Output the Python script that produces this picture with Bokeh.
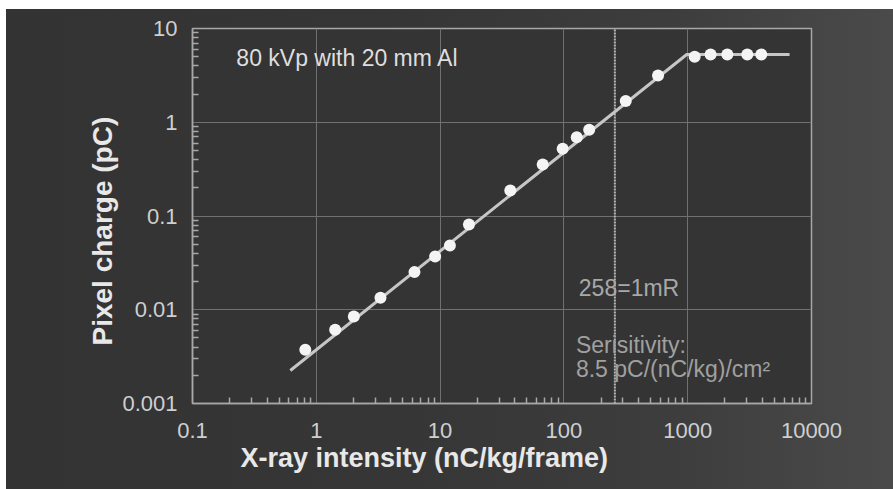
from bokeh.plotting import figure
from bokeh.models import FixedTicker, Label, Title
from bokeh.embed import file_html
from bokeh.resources import INLINE

# ---- data ----
intensity = [0.815, 1.42, 2.01, 3.30, 6.21, 9.12, 12.0, 17.1, 36.9, 67.4, 97.7,
             127, 160, 316, 576, 1138, 1531, 2090, 3030, 3930]
charge = [0.00374, 0.00611, 0.00847, 0.0134, 0.0252, 0.037, 0.0484, 0.081,
          0.187, 0.354, 0.521, 0.692, 0.83, 1.69, 3.15, 5.0, 5.28, 5.28, 5.28, 5.28]
fit_x = [0.617, 982, 6650]
fit_y = [0.00225, 5.28, 5.28]
one_mR = 258
x_ticks = [0.1, 1, 10, 100, 1000, 10000]
x_tick_labels = ["0.1", "1", "10", "100", "1000", "10000"]
y_ticks = [0.001, 0.01, 0.1, 1, 10]
y_tick_labels = ["0.001", "0.01", "0.1", "1", "10"]

FONT = "Liberation Sans"

p = figure(width=887, height=480, x_axis_type="log", y_axis_type="log",
           x_range=(0.1, 10000), y_range=(0.001, 10),
           output_backend="svg", toolbar_location=None, title=None,
           min_border_left=186, min_border_right=82, min_border_top=19,
           min_border_bottom=86, margin=(9, 0, 0, 6))

p.border_fill_alpha = 0
p.styles = {"background": "linear-gradient(90deg, #333333 0%, #363636 45%, #3d3d3d 75%, #4a4a4a 100%)"}
p.background_fill_color = "#343434"
p.outline_line_color = "#a8a8a8"
p.outline_line_width = 1.5

def minors(ticks):
    out = []
    for t in ticks[:-1]:
        for m in range(2, 10):
            out.append(t * m)
    return out

p.xaxis.ticker = FixedTicker(ticks=x_ticks, minor_ticks=minors(x_ticks))
p.yaxis.ticker = FixedTicker(ticks=y_ticks, minor_ticks=minors(y_ticks))
p.xaxis.major_label_overrides = {t: l for t, l in zip(x_ticks, x_tick_labels)}
p.yaxis.major_label_overrides = {t: l for t, l in zip(y_ticks, y_tick_labels)}

for ax in (p.xaxis, p.yaxis):
    ax.axis_line_color = "#a8a8a8"
    ax.axis_line_width = 1.5
    ax.major_tick_in = 0
    ax.major_tick_out = 0
    ax.minor_tick_in = 6
    ax.minor_tick_out = 0
    ax.minor_tick_line_color = "#a8a8a8"
    ax.minor_tick_line_width = 1.5
    ax.major_label_text_font = FONT
    ax.major_label_text_font_size = "22px"
    ax.major_label_text_color = "#cfcfcf"
p.xaxis.major_label_standoff = 19
p.yaxis.major_label_standoff = 15

p.grid.grid_line_color = "#707070"
p.grid.grid_line_width = 1

# 1 mR marker line
p.line([one_mR, one_mR], [y_ticks[0], y_ticks[-1]], line_color="#b8b8b8",
       line_width=2, line_dash="2 1")

p.line(fit_x, fit_y, line_color="#c6c6c6", line_width=3)
p.scatter(intensity, charge, size=12, fill_color="#f4f4f4", line_color=None)

def lab(x, y, text, size, color):
    p.add_layout(Label(x=x, y=y, text=text, text_font=FONT, text_font_size=size,
                       text_color=color, text_align="left", text_baseline="middle"))

lab(0.226, 4.9, "80 kVp with 20 mm Al", "23px", "#dedede")
lab(132, 0.0169, "258=1mR", "23px", "#a8a8a8")
lab(125, 0.00416, "Serisitivity:", "23px", "#a0a0a0")
lab(125, 0.00236, "8.5 pC/(nC/kg)/cm²", "23px", "#a0a0a0")

xt = Title(text="X-ray intensity (nC/kg/frame)", align="left", offset=48,
           text_font=FONT, text_font_size="27px", text_font_style="bold",
           text_color="#e8e8e8", standoff=0)
p.add_layout(xt, "below")
yt = Title(text="Pixel charge (pC)", align="left", offset=58,
           text_font=FONT, text_font_size="28px", text_font_style="bold",
           text_color="#e8e8e8", standoff=4)
p.add_layout(yt, "left")

open("out.html", "w").write(file_html(p, INLINE))
